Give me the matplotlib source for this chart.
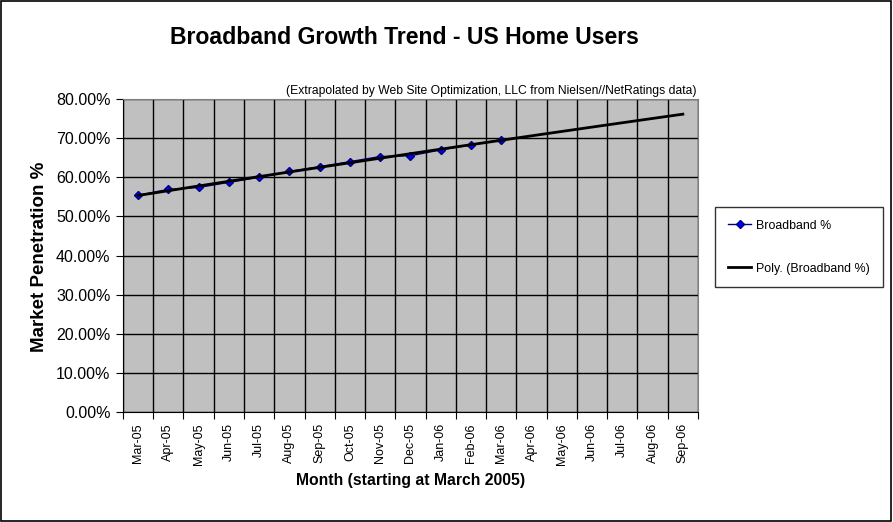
import numpy as np
import matplotlib
matplotlib.use("Agg")
import matplotlib.pyplot as plt
from matplotlib.ticker import FuncFormatter
from matplotlib.patches import Rectangle

plt.rcParams['font.family'] = ['Liberation Sans', 'DejaVu Sans']

months = ['Mar-05', 'Apr-05', 'May-05', 'Jun-05', 'Jul-05', 'Aug-05', 'Sep-05',
          'Oct-05', 'Nov-05', 'Dec-05', 'Jan-06', 'Feb-06', 'Mar-06', 'Apr-06',
          'May-06', 'Jun-06', 'Jul-06', 'Aug-06', 'Sep-06']
# observed broadband share (%) for the first 13 months
broadband = [55.4, 56.9, 57.4, 58.7, 60.0, 61.5, 62.7, 64.0, 65.3, 65.5, 67.0, 68.3, 69.6]

x_all = np.arange(len(months))
x_obs = np.arange(len(broadband))

# Excel style polynomial trendline (order 2), extended over all months
coef = np.polyfit(x_obs, broadband, 2)
trend = np.polyval(coef, x_all)

fig = plt.figure(figsize=(8.93, 5.22), dpi=100)
ax = fig.add_axes([0.1377, 0.2107, 0.6439, 0.5996])
ax.set_facecolor('#c0c0c0')

ax.plot(x_obs, broadband, color='#000080', lw=1, marker='D', ms=4,
        mfc='#0000ff', mec='#000080', label='Broadband %', zorder=3)
ax.plot(x_all, trend, color='black', lw=2, label='Poly. (Broadband %)', zorder=4)

ax.set_xlim(-0.5, len(months) - 0.5)
ax.set_ylim(0, 80)

# gridlines
ax.set_yticks(np.arange(0, 81, 10))
ax.yaxis.set_major_formatter(FuncFormatter(lambda v, p: '%.2f%%' % v))
ax.set_xticks(np.arange(-0.5, len(months), 1))
ax.set_xticklabels([])
ax.set_xticks(x_all, minor=True)
ax.set_xticklabels(months, minor=True, rotation=90, fontsize=9)
ax.tick_params(axis='x', which='major', length=5, color='black', direction='out')
ax.tick_params(axis='x', which='minor', length=0, pad=8)
ax.tick_params(axis='y', length=5, labelsize=11.5, pad=4)
ax.grid(True, which='major', color='black', lw=1)
ax.set_axisbelow(True)

for s in ['top', 'right']:
    ax.spines[s].set_color('#808080')
for s in ['left', 'bottom']:
    ax.spines[s].set_color('black')

ax.set_ylabel('Market Penetration %', fontsize=13.5, fontweight='bold')
ax.yaxis.set_label_coords(-0.131, 0.495)
ax.set_xlabel('Month (starting at March 2005)', fontsize=11.3, fontweight='bold')
ax.xaxis.set_label_coords(0.501, -0.195)

fig.text(0.4524, 0.929, 'Broadband Growth Trend - US Home Users', ha='center', va='center',
         fontsize=16.6, fontweight='bold')
fig.text(0.780, 0.826, '(Extrapolated by Web Site Optimization, LLC from Nielsen//NetRatings data)',
         ha='right', va='center', fontsize=8.75)

leg = ax.legend(loc='center left', bbox_to_anchor=(1.0296, 0.527), fontsize=8.9,
                frameon=True, fancybox=False, edgecolor='black', borderpad=1.05,
                labelspacing=2.5, handlelength=1.9, handletextpad=0.35, borderaxespad=0)
leg.get_frame().set_linewidth(1)

# outer chart border
fig.patches.append(Rectangle((0.001, 0.002), 0.997, 0.996, transform=fig.transFigure,
                             fill=False, edgecolor='black', lw=1.2))

fig.savefig('out.png', dpi=100)
